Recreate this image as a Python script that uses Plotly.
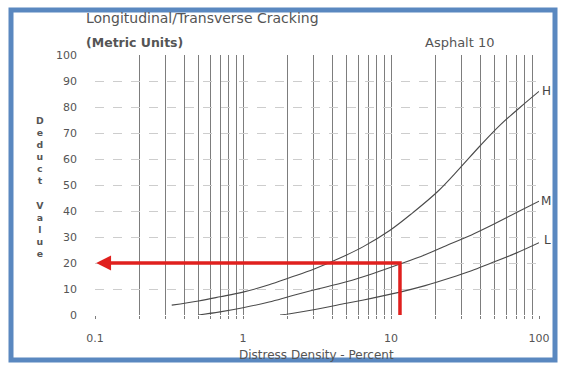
import numpy as np
import plotly.graph_objects as go

# ---- data ----
h_x = [0.33, 0.5, 0.7, 1, 1.5, 2.08, 3, 4.52, 6.5, 9.8, 14, 20.5, 29, 39.9, 55, 75, 100]
h_y = [3.8, 5.4, 7.0, 8.8, 11.6, 14.4, 17.6, 21.9, 26.3, 32.5, 39.3, 47.3, 56.3, 65.0, 73.2, 80.0, 86.0]
m_x = [0.5, 0.7, 1, 1.5, 2.08, 3, 5, 7.5, 11.5, 17, 25, 35, 46.7, 70, 100]
m_y = [0.0, 1.2, 2.8, 5.0, 7.2, 9.6, 12.8, 15.9, 19.6, 23.2, 27.3, 30.8, 34.2, 39.3, 43.8]
l_x = [1.78, 2.08, 3, 5, 7.5, 11.5, 17, 25, 35, 46.7, 70, 100]
l_y = [0.0, 0.5, 2.0, 4.5, 6.5, 8.8, 11.3, 14.2, 17.0, 19.8, 23.8, 27.8]
curve_labels = ["H", "M", "L"]
label_y = [86, 44, 29]
example_density = 11.5
example_deduct = 20
x_min = 0.1

x_grid = [m * 10.0 ** e for e in (-1, 0, 1) for m in range(1, 10)] + [100]
x_tick_text = {0.1: "0.1", 1: "1", 10: "10", 100: "100"}
y_ticks = list(range(0, 101, 10))

# ---- geometry helpers (pixel -> paper) ----
L, R, T, B = 95, 539, 55, 315
W, H = 564, 368
def px(x):
    return (x - L) / (R - L)
def py(y):
    return (B - y) / (B - T)

FONT = "DejaVu Sans"
TXT = "#555"

fig = go.Figure()
curve_color = "#4a4a4a"
for xs, ys in ((h_x, h_y), (m_x, m_y), (l_x, l_y)):
    fig.add_trace(go.Scatter(x=xs, y=ys, mode="lines",
                             line=dict(color=curve_color, width=1.1, shape="spline", smoothing=1.0),
                             hoverinfo="skip", showlegend=False))

red = "#e0201e"
fig.add_trace(go.Scatter(x=[example_density, example_density, x_min * 1.1],
                         y=[0, example_deduct, example_deduct], mode="lines",
                         line=dict(color=red, width=3.5), showlegend=False, hoverinfo="skip"))
fig.add_annotation(x=np.log10(x_min) + 0.008, y=example_deduct, xref="x", yref="y",
                   ax=16, ay=0, showarrow=True, arrowhead=2, arrowsize=0.85,
                   arrowwidth=3.5, arrowcolor=red, text="")

for lab, yv in zip(curve_labels, label_y):
    fig.add_annotation(x=px(553), y=yv, xref="paper", yref="y", text=lab, showarrow=False,
                       font=dict(size=12, color="#444", family=FONT))

# titles
fig.add_annotation(x=px(84), y=py(18), xref="paper", yref="paper", xanchor="left", yanchor="middle",
                   text="Longitudinal/Transverse Cracking", showarrow=False,
                   font=dict(size=14, color=TXT, family=FONT))
fig.add_annotation(x=px(84), y=py(43), xref="paper", yref="paper", xanchor="left", yanchor="middle",
                   text="<b>(Metric Units)</b>", showarrow=False,
                   font=dict(size=12.5, color=TXT, family=FONT))
fig.add_annotation(x=px(497), y=py(43), xref="paper", yref="paper", xanchor="right", yanchor="middle",
                   text="Asphalt 10", showarrow=False,
                   font=dict(size=13, color=TXT, family=FONT))
fig.add_annotation(x=px(316), y=py(355), xref="paper", yref="paper", yanchor="middle",
                   text="Distress Density - Percent", showarrow=False,
                   font=dict(size=12, color=TXT, family=FONT))
fig.add_annotation(x=px(34), y=py(187), xref="paper", yref="paper", yanchor="middle",
                   text="<b>" + "<br>".join(list("Deduct")) + "<br> <br>" + "<br>".join(list("Value")) + "</b>",
                   showarrow=False,
                   font=dict(size=9.3, color=TXT, family=FONT))

# frame
fig.add_shape(type="rect", xref="paper", yref="paper",
              x0=px(11), x1=px(555), y0=py(360), y1=py(10),
              line=dict(color="#5a88c0", width=5), layer="above")

fig.update_xaxes(type="log", range=[-1, 2], tickvals=x_grid,
                 ticktext=[x_tick_text.get(round(v, 6), "") for v in x_grid],
                 showgrid=True, gridcolor="#7d7d7d", gridwidth=1.2,
                 ticks="outside", ticklen=3, tickcolor="#7d7d7d",
                 showline=False, zeroline=False, ticklabelstandoff=10,
                 tickfont=dict(size=11, color=TXT, family=FONT))
fig.update_yaxes(range=[0, 100], tickvals=y_ticks, showgrid=True, gridcolor="#cdcdcd",
                 griddash="dash", gridwidth=1, zeroline=False, showline=False,
                 ticks="", ticklabelstandoff=17,
                 tickfont=dict(size=11, color=TXT, family=FONT))
fig.update_layout(width=W, height=H, margin=dict(l=L, r=W - R, t=T, b=H - B),
                  paper_bgcolor="white", plot_bgcolor="white")
fig.write_html("out.html")
